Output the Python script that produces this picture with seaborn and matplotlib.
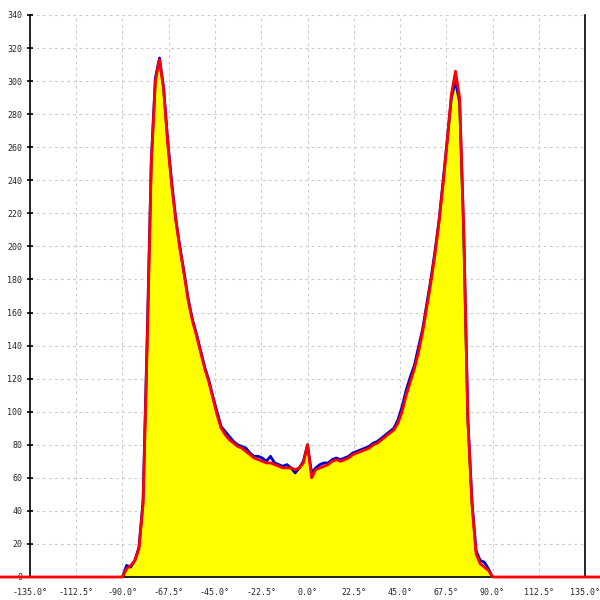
import numpy as np
import pandas as pd
import seaborn as sns
import matplotlib.pyplot as plt

# angle (degrees) and counts
angles = [-90, -88, -86, -84, -82, -80, -78, -76, -74, -72, -70, -68, -66, -64, -62,
          -60, -58, -56, -54, -52, -50, -48, -46, -44, -42, -40, -38, -36, -34, -32,
          -30, -28, -26, -24, -22, -20, -18, -16, -14, -12, -10, -8, -6, -4, -2,
          0, 2, 4, 6, 8, 10, 12, 14, 16, 18, 20, 22, 24, 26, 28,
          30, 32, 34, 36, 38, 40, 42, 44, 46, 48, 50, 52, 54, 56, 58,
          60, 62, 64, 66, 68, 70, 72, 74, 76, 78, 80, 82, 84, 86, 88, 90]

red_counts = [0, 5, 7, 10, 17, 44, 140, 250, 300, 313, 295, 262, 236, 215, 198,
              183, 167, 155, 146, 136, 126, 118, 108, 98, 90, 86, 83, 81, 79, 78,
              76, 74, 72, 71, 70, 69, 69, 68, 67, 66, 66, 66, 65, 66, 69,
              80, 60, 65, 66, 67, 68, 70, 71, 70, 71, 72, 74, 75, 76, 77,
              78, 80, 81, 83, 85, 87, 89, 93, 100, 110, 118, 126, 136, 148, 163,
              178, 195, 215, 238, 264, 292, 306, 290, 210, 95, 44, 14, 8, 6, 4, 0]

blue_counts = [0, 7, 6, 10, 18, 46, 145, 252, 302, 314, 296, 264, 238, 216, 199,
               184, 168, 156, 147, 137, 127, 119, 109, 100, 91, 88, 85, 82, 80, 79,
               78, 75, 73, 73, 72, 70, 73, 69, 68, 67, 68, 66, 63, 66, 70,
               80, 63, 66, 68, 69, 69, 71, 72, 71, 72, 73, 75, 76, 77, 78,
               79, 81, 82, 84, 86, 88, 90, 95, 103, 113, 121, 128, 139, 150, 165,
               180, 197, 216, 240, 265, 290, 300, 287, 208, 96, 46, 16, 10, 9, 5, 0]

# the red zero line runs across the full width of the figure
edge_angles = [-150, -90]
edge_counts = [0, 0]

x_ticks = [-135, -112.5, -90, -67.5, -45, -22.5, 0, 22.5, 45, 67.5, 90, 112.5, 135]
y_ticks = list(range(0, 341, 20))

sns.set_style("white")
plt.rcParams['font.family'] = ['DejaVu Sans Mono', 'DejaVu Sans']

fig = plt.figure(figsize=(6, 6), dpi=100)
ax = fig.add_axes([30 / 600, 23 / 600, 555 / 600, 562 / 600])

df = pd.DataFrame({'angle': angles, 'red': red_counts, 'blue': blue_counts})

ax.fill_between(df['angle'], df['red'], 0, color='#ffff00', zorder=1, linewidth=0)
sns.lineplot(data=df, x='angle', y='blue', color='#0000cc', linewidth=2,
             estimator=None, sort=False, ax=ax, zorder=3)
line_df = pd.DataFrame({'angle': edge_angles + angles + [90, 150],
                        'red': edge_counts + red_counts + [0, 0]})
sns.lineplot(data=line_df, x='angle', y='red', color='#ff0000', linewidth=2,
             estimator=None, sort=False, ax=ax, zorder=4, clip_on=False)

ax.set_xlim(-135, 135)
ax.set_ylim(0, 340)
ax.set_xticks(x_ticks)
ax.set_xticklabels([f"{t:.1f}°" for t in x_ticks], fontsize=6)
ax.set_yticks(y_ticks)
ax.set_yticklabels([str(t) for t in y_ticks], fontsize=6)
ax.set_xlabel('')
ax.set_ylabel('')

ax.grid(True, color='#cccccc', linestyle=(0, (2.5, 3)), linewidth=0.8, zorder=0)
ax.set_axisbelow(True)

for side in ['left', 'right', 'bottom']:
    ax.spines[side].set_visible(True)
    ax.spines[side].set_color('black')
    ax.spines[side].set_linewidth(1.2)
ax.spines['top'].set_visible(False)

ax.tick_params(axis='x', direction='inout', length=8, width=1.2, color='black', pad=4)
ax.tick_params(axis='y', direction='inout', length=5, width=1.2, color='black', pad=3,
               left=True)

fig.savefig('out.png', dpi=100)
